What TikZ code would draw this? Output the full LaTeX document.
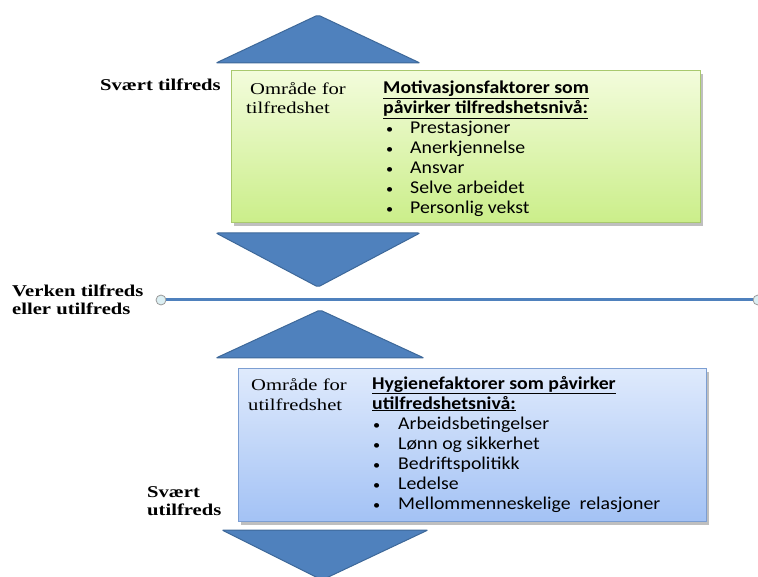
\documentclass[tikz,border=0pt]{standalone}
\usepackage{fontspec}
\setmainfont{Liberation Serif}[FakeStretch=1.25]
\newfontfamily\calibri{Carlito}[FakeStretch=1.1]
\usetikzlibrary{positioning}

\definecolor{arrowblue}{HTML}{4F81BD}
\definecolor{arrowedge}{HTML}{3D6899}
\definecolor{greentop}{HTML}{F3FCDC}
\definecolor{greenbot}{HTML}{CBEE8A}
\definecolor{greenedge}{HTML}{A9C96E}
\definecolor{bluetop}{HTML}{DFEAFC}
\definecolor{bluebot}{HTML}{A3C2F5}
\definecolor{blueedge}{HTML}{7C9ED2}
\definecolor{knob}{HTML}{DCEFF3}

\tikzset{
  tri/.style={fill=arrowblue,draw=arrowedge,line width=1pt,rounded corners=2pt},
  area/.style={anchor=north west,minimum width=#1,inner sep=0pt},
  greenbox/.style={area=469,minimum height=152,top color=greentop,bottom color=greenbot,draw=greenedge,line width=1pt},
  bluebox/.style={area=468,minimum height=153,top color=bluetop,bottom color=bluebot,draw=blueedge,line width=1pt},
  level/.style={anchor=base west,font=\bfseries\fontsize{16.5}{18}\selectfont,align=left,inner sep=0pt},
  areatext/.style={anchor=base west,inner sep=0pt,font=\fontsize{16.5}{20}\selectfont},
  heading/.style={anchor=base west,inner sep=0pt,font=\calibri\bfseries\fontsize{18}{20}\selectfont},
  factor/.style={anchor=base west,inner sep=0pt,font=\calibri\fontsize{18}{20}\selectfont},
  dot/.style={anchor=base west,inner sep=0pt,font=\calibri\fontsize{13}{20}\selectfont},
  endpoint/.style={circle,draw=gray!80,fill=knob,line width=0.8pt,inner sep=0pt,minimum size=10}
}

\begin{document}
\begin{tikzpicture}[x=1pt,y=-1pt]
  \useasboundingbox (0,0) rectangle (758,577);

  % arrows
  \draw[tri] (216,63) -- (318,15) -- (420,63) -- cycle;
  \draw[tri] (216,233) -- (420,233) -- (318,287) -- cycle;
  \draw[tri] (216,358) -- (320,310) -- (424,358) -- cycle;
  \draw[tri] (222,530) -- (428,530) -- (322,580) -- cycle;

  % shadows
  \fill[black!25] (234,74) rectangle (703,226);
  \fill[black!25] (241,372) rectangle (709,525);

  % boxes
  \node[greenbox] (motbox) at (231,70) {};
  \node[bluebox] (hygbox) at (238,368) {};

  % neutral line
  \node[endpoint] (left)  at (161,300) {};
  \node[endpoint] (right) at (758,300) {};
  \draw[arrowblue,line width=3pt] (left) -- (right);

  % levels
  \node[level] (high) at (100,91)  {Svært tilfreds};
  \node[level] (mid)  at (12,315)  {Verken tilfreds\\eller utilfreds};
  \node[level] (low)  at (147,515) {Svært\\utilfreds};

  % satisfaction area
  \node[areatext] (m0)  at (250,95)  {Område for};
  \node[areatext] (m1)  at (246,114) {tilfredshet};
  \node[heading]  (mh1) at (383,94)  {\underline{Motivasjonsfaktorer som}};
  \node[heading]  (mh2) at (383,114) {\underline{påvirker tilfredshetsnivå:}};
  \node[dot]    (mb1) at (386,134) {•};
  \node[factor] (mf1) at (410,134) {Prestasjoner};
  \node[dot]    (mb2) at (386,154) {•};
  \node[factor] (mf2) at (410,154) {Anerkjennelse};
  \node[dot]    (mb3) at (386,174) {•};
  \node[factor] (mf3) at (410,174) {Ansvar};
  \node[dot]    (mb4) at (386,194) {•};
  \node[factor] (mf4) at (410,194) {Selve arbeidet};
  \node[dot]    (mb5) at (386,214) {•};
  \node[factor] (mf5) at (410,214) {Personlig vekst};

  % dissatisfaction area
  \node[areatext] (h0)  at (251,391) {Område for};
  \node[areatext] (h1)  at (248,410) {utilfredshet};
  \node[heading]  (hh1) at (372,389) {\underline{Hygienefaktorer som påvirker}};
  \node[heading]  (hh2) at (372,409) {\underline{utilfredshetsnivå:}};
  \node[dot]    (hb1) at (373,429) {•};
  \node[factor] (hf1) at (398,429) {Arbeidsbetingelser};
  \node[dot]    (hb2) at (373,449) {•};
  \node[factor] (hf2) at (398,449) {Lønn og sikkerhet};
  \node[dot]    (hb3) at (373,469) {•};
  \node[factor] (hf3) at (398,469) {Bedriftspolitikk};
  \node[dot]    (hb4) at (373,489) {•};
  \node[factor] (hf4) at (398,489) {Ledelse};
  \node[dot]    (hb5) at (373,509) {•};
  \node[factor] (hf5) at (398,509) {Mellommenneskelige\ \ relasjoner};

\end{tikzpicture}
\end{document}
